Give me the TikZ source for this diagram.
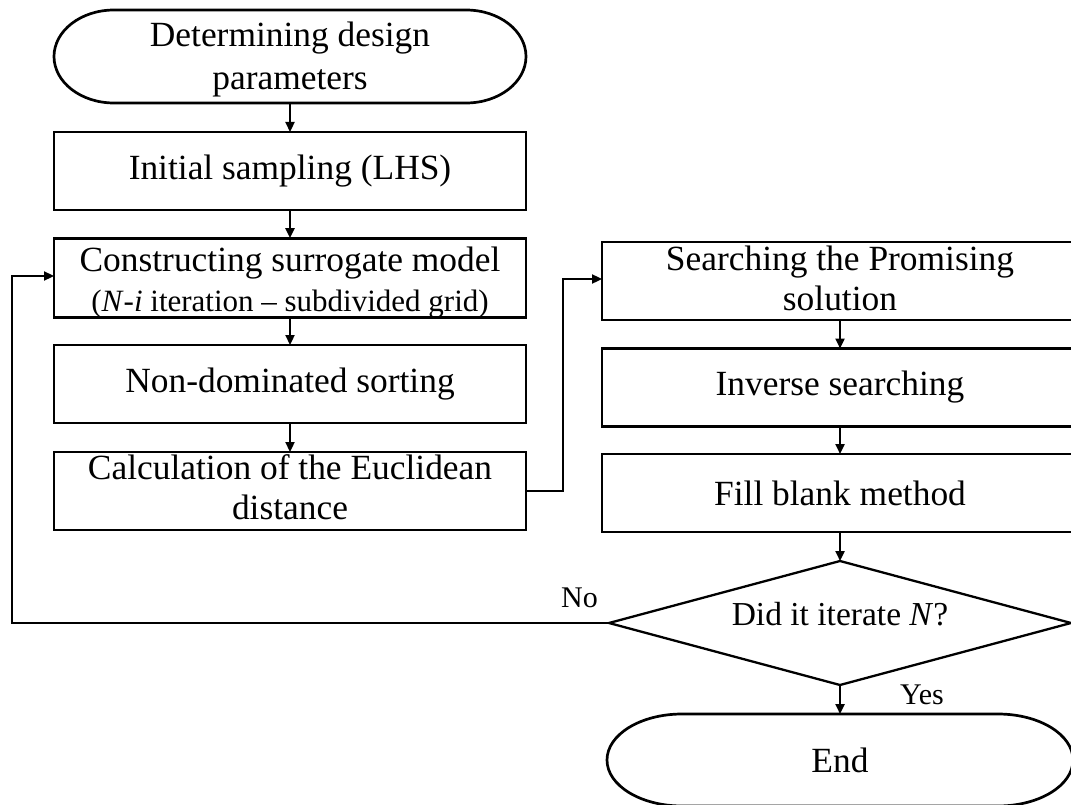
\documentclass[tikz,border=0pt]{standalone}
\usepackage{fontspec}
\setmainfont{Liberation Serif}
\usetikzlibrary{shapes.geometric,arrows.meta,calc}
\begin{document}
\begin{tikzpicture}[x=1pt,y=-1pt,
  box/.style={draw,line width=2.7pt,minimum width=472pt,minimum height=78pt,inner sep=0pt,outer sep=0pt,align=center,font=\fontsize{35.4}{40}\selectfont},
  rbox/.style={box,minimum width=476pt},
  termline/.style={line width=2.7pt},
  arr/.style={line width=2.3pt,-{Triangle[length=10pt,width=9pt]}},
  lbl/.style={font=\fontsize{30}{36}\selectfont,inner sep=0pt}]
\clip (0,0) rectangle (1071,805);
% start terminal
\node[box,draw=none,minimum height=93pt,font=\fontsize{35.4}{43}\selectfont] (start) at (290,56.5) {\rule{0pt}{30pt}Determining design\\parameters};
\draw[termline] ([xshift=60pt]start.north west) -- ([xshift=-60pt]start.north east)
  arc[start angle=90,end angle=-90,x radius=60pt,y radius=46.5pt]
  -- ([xshift=60pt]start.south west)
  arc[start angle=270,end angle=90,x radius=60pt,y radius=46.5pt] -- cycle;
% left column
\node[box] (init) at (290,171) {Initial sampling (LHS)};
\node[box] (cons) at (290,278) {\rule{0pt}{33pt}Constructing surrogate model\\{\fontsize{31}{38}\selectfont(\textit{N}-\textit{i} iteration -- subdivided grid)}};
\node[box] (nds) at (290,384) {Non-dominated sorting};
\node[box] (calc) at (290,491) {Calculation of the Euclidean\\distance\rule[-8pt]{0pt}{8pt}};
% right column
\node[rbox] (search) at (840,281) {Searching the Promising\\solution\rule[-6pt]{0pt}{6pt}};
\node[rbox] (inv) at (840,387.5) {Inverse searching};
\node[rbox] (fill) at (840,493) {Fill blank method};
\node[draw,diamond,aspect=3.726,line width=2.3pt,minimum width=462pt,minimum height=124pt,inner sep=0pt,outer sep=0pt,font=\fontsize{33.5}{38}\selectfont,text depth=18pt] (dec) at (840,623) {Did it iterate \textit{N}?};
% end terminal
\node[box,draw=none,minimum width=466pt,minimum height=92pt] (end) at (840,760) {End};
\draw[termline] ([xshift=75pt]end.north west) -- ([xshift=-75pt]end.north east)
  arc[start angle=90,end angle=-90,x radius=75pt,y radius=46pt]
  -- ([xshift=75pt]end.south west)
  arc[start angle=270,end angle=90,x radius=75pt,y radius=46pt] -- cycle;
% connectors
\draw[arr] (start.south) -- (init.north);
\draw[arr] (init.south) -- (cons.north);
\draw[arr] (cons.south) -- (nds.north);
\draw[arr] (nds.south) -- (calc.north);
\draw[arr] (calc.east) -- ++(37pt,0pt) |- ([yshift=2pt]search.west);
\draw[arr] (search.south) -- (inv.north);
\draw[arr] (inv.south) -- (fill.north);
\draw[arr] (fill.south) -- (dec.north);
\draw[arr] (dec.south) -- (end.north);
\coordinate (lp) at (12,623);
\draw[arr] (dec.west) -- (lp) |- ([yshift=2pt]cons.west);
% labels
\node[lbl,anchor=base east] (no) at (598,607) {No};
\node[lbl,anchor=base west] (yes) at (900,704) {Yes};
\end{tikzpicture}
\end{document}
